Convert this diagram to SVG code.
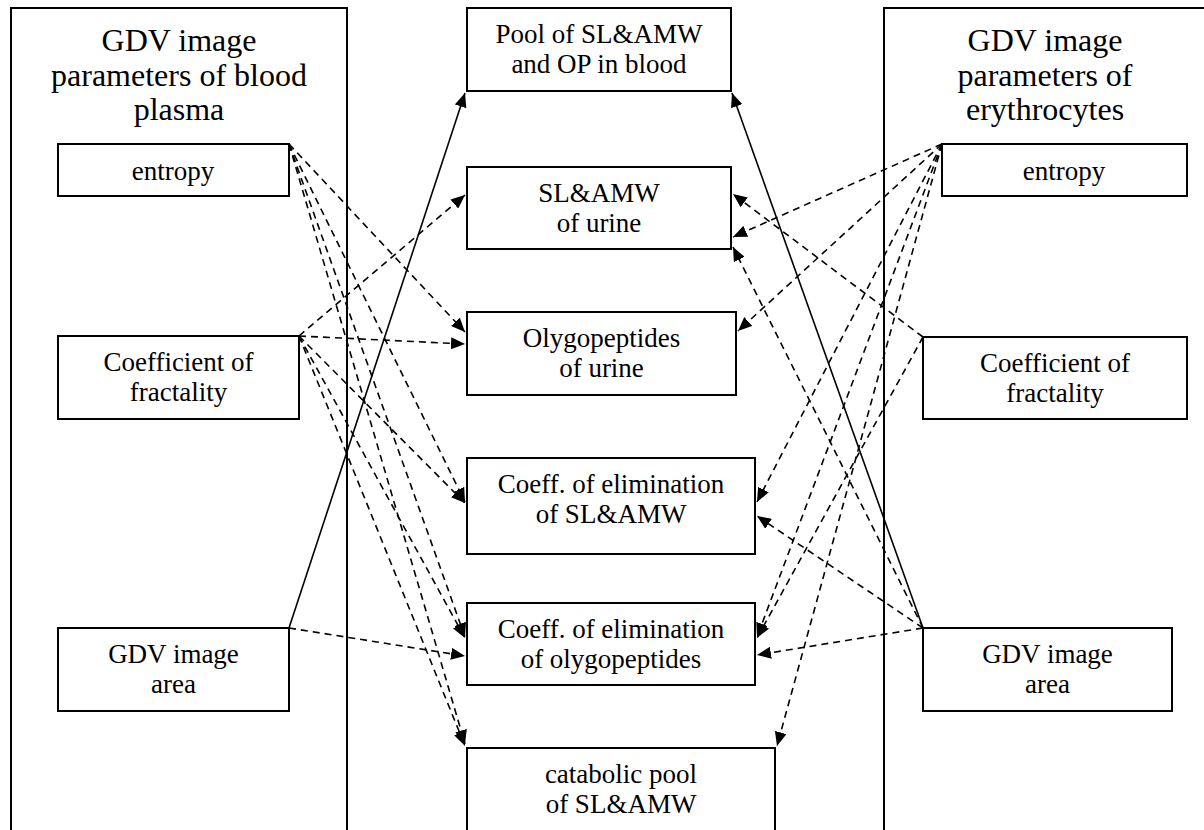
<svg xmlns="http://www.w3.org/2000/svg" width="1204" height="830" viewBox="0 0 1204 830">
<style>
.box{fill:#fff;stroke:#000;stroke-width:2}
.panel{fill:none;stroke:#000;stroke-width:2}
.t{font-family:'Liberation Serif','Times New Roman',Tinos,'DejaVu Serif',serif;font-size:27px;fill:#000;text-anchor:middle}
.title{font-family:'Liberation Serif','Times New Roman',Tinos,'DejaVu Serif',serif;font-size:32px;fill:#000;text-anchor:middle}
.d{fill:none;stroke:#000;stroke-width:1.6;stroke-dasharray:7,5;marker-end:url(#ah)}
.s{fill:none;stroke:#000;stroke-width:1.6;marker-end:url(#ah)}
</style>
<defs>
<marker id="ah" markerUnits="userSpaceOnUse" markerWidth="14" markerHeight="12" refX="14" refY="6" orient="auto">
<path d="M0,0 L14,6 L0,12 z" fill="#000"/>
</marker>
</defs>
<rect width="1204" height="830" fill="#fff"/>
<g id="panel-left">
<path class="panel" d="M11,832 V8 H347 V832"/>
<text class="title" x="179" y="51">GDV image</text>
<text class="title" x="179" y="86">parameters of blood</text>
<text class="title" x="179" y="120">plasma</text>
</g>
<g id="panel-right">
<path class="panel" d="M884,832 V8 H1210"/>
<text class="title" x="1045" y="51">GDV image</text>
<text class="title" x="1045" y="86">parameters of</text>
<text class="title" x="1045" y="120">erythrocytes</text>
</g>
<g id="connectors">
<path class="s" d="M289,628 L465,93"/>
<path class="s" d="M923,628 L732,93"/>
<path class="d" d="M289,144 L465,332"/>
<path class="d" d="M289,144 L465,502"/>
<path class="d" d="M289,144 L465,637"/>
<path class="d" d="M289,144 L465,744"/>
<path class="d" d="M299,336 L465,195"/>
<path class="d" d="M299,336 L465,344"/>
<path class="d" d="M299,336 L465,503"/>
<path class="d" d="M299,336 L465,638"/>
<path class="d" d="M299,336 L465,746"/>
<path class="d" d="M289,628 L465,656"/>
<path class="d" d="M942,144 L733,237"/>
<path class="d" d="M942,144 L738,331"/>
<path class="d" d="M942,144 L757,502"/>
<path class="d" d="M942,144 L757,637"/>
<path class="d" d="M942,144 L777,746"/>
<path class="d" d="M923,337 L733,194"/>
<path class="d" d="M923,337 L757,638"/>
<path class="d" d="M923,628 L733,247"/>
<path class="d" d="M923,628 L757,516"/>
<path class="d" d="M923,628 L757,655"/>
</g>
<g id="n-left-entropy">
<rect class="box" x="58" y="144" width="231" height="52"/>
<text class="t" x="173" y="180">entropy</text>
</g>
<g id="n-left-fractality">
<rect class="box" x="58" y="336" width="241" height="83"/>
<text class="t" x="178.5" y="371">Coefficient of</text>
<text class="t" x="178.5" y="401">fractality</text>
</g>
<g id="n-left-area">
<rect class="box" x="58" y="628" width="231" height="83"/>
<text class="t" x="173.5" y="663">GDV image</text>
<text class="t" x="173.5" y="693">area</text>
</g>
<g id="n-right-entropy">
<rect class="box" x="942" y="144" width="245" height="52"/>
<text class="t" x="1064" y="180">entropy</text>
</g>
<g id="n-right-fractality">
<rect class="box" x="923" y="337" width="264" height="82"/>
<text class="t" x="1055" y="372">Coefficient of</text>
<text class="t" x="1055" y="402">fractality</text>
</g>
<g id="n-right-area">
<rect class="box" x="923" y="628" width="249" height="83"/>
<text class="t" x="1047.5" y="663">GDV image</text>
<text class="t" x="1047.5" y="693">area</text>
</g>
<g id="n-pool">
<rect class="box" x="467" y="8" width="264" height="83"/>
<text class="t" x="599" y="43">Pool of SL&amp;AMW</text>
<text class="t" x="599" y="73">and OP in blood</text>
</g>
<g id="n-sl-urine">
<rect class="box" x="467" y="167" width="264" height="82"/>
<text class="t" x="599" y="202">SL&amp;AMW</text>
<text class="t" x="599" y="232">of urine</text>
</g>
<g id="n-olygo-urine">
<rect class="box" x="467" y="312" width="269" height="83"/>
<text class="t" x="601.5" y="347">Olygopeptides</text>
<text class="t" x="601.5" y="377">of urine</text>
</g>
<g id="n-coeff-sl">
<rect class="box" x="467" y="458" width="288" height="96"/>
<text class="t" x="611" y="493">Coeff. of elimination</text>
<text class="t" x="611" y="523">of SL&amp;AMW</text>
</g>
<g id="n-coeff-olygo">
<rect class="box" x="467" y="603" width="288" height="82"/>
<text class="t" x="611" y="638">Coeff. of elimination</text>
<text class="t" x="611" y="668">of olygopeptides</text>
</g>
<g id="n-catabolic">
<rect class="box" x="467" y="748" width="308" height="100"/>
<text class="t" x="621" y="783">catabolic pool</text>
<text class="t" x="621" y="813">of SL&amp;AMW</text>
</g>
</svg>
